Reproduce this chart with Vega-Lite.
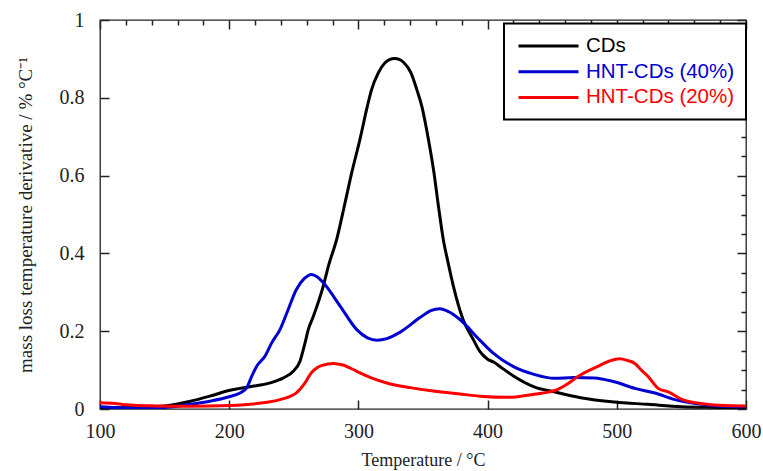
{
  "$schema": "https://vega.github.io/schema/vega-lite/v6.json",
  "width": 646,
  "height": 389,
  "autosize": {"type": "none"},
  "padding": {"left": 100, "top": 20, "right": 17, "bottom": 62},
  "background": "white",
  "config": {
    "view": {"stroke": "#222222", "strokeWidth": 1.3},
    "axis": {"labelFont": "Liberation Serif", "titleFont": "Liberation Serif", "labelColor": "#222222", "titleColor": "#222222", "titleFontWeight": "normal", "grid": false, "domain": false}
  },
  "data": {"values": [
    {"s":"CDs","t":100,"v":0.002},{"s":"CDs","t":120,"v":0.004},{"s":"CDs","t":140,"v":0.006},{"s":"CDs","t":150,"v":0.008},{"s":"CDs","t":160,"v":0.013},{"s":"CDs","t":170,"v":0.02},{"s":"CDs","t":185,"v":0.033},{"s":"CDs","t":200.6,"v":0.048},{"s":"CDs","t":216,"v":0.057},{"s":"CDs","t":231.6,"v":0.067},{"s":"CDs","t":242,"v":0.08},{"s":"CDs","t":249.6,"v":0.097},{"s":"CDs","t":254.8,"v":0.123},{"s":"CDs","t":258.7,"v":0.17},{"s":"CDs","t":261.2,"v":0.204},{"s":"CDs","t":265,"v":0.237},{"s":"CDs","t":272.8,"v":0.316},{"s":"CDs","t":277,"v":0.37},{"s":"CDs","t":283.2,"v":0.436},{"s":"CDs","t":289,"v":0.52},{"s":"CDs","t":294.8,"v":0.607},{"s":"CDs","t":301.2,"v":0.693},{"s":"CDs","t":306.9,"v":0.778},{"s":"CDs","t":310.2,"v":0.821},{"s":"CDs","t":315.4,"v":0.864},{"s":"CDs","t":320.6,"v":0.89},{"s":"CDs","t":324,"v":0.898},{"s":"CDs","t":328,"v":0.901},{"s":"CDs","t":332,"v":0.898},{"s":"CDs","t":335.3,"v":0.89},{"s":"CDs","t":340.7,"v":0.864},{"s":"CDs","t":345.2,"v":0.821},{"s":"CDs","t":349.1,"v":0.778},{"s":"CDs","t":354.2,"v":0.693},{"s":"CDs","t":358.5,"v":0.607},{"s":"CDs","t":362,"v":0.52},{"s":"CDs","t":365.7,"v":0.436},{"s":"CDs","t":369.5,"v":0.375},{"s":"CDs","t":373.5,"v":0.316},{"s":"CDs","t":381,"v":0.23},{"s":"CDs","t":389,"v":0.178},{"s":"CDs","t":394,"v":0.148},{"s":"CDs","t":400,"v":0.128},{"s":"CDs","t":405,"v":0.12},{"s":"CDs","t":410,"v":0.108},{"s":"CDs","t":420,"v":0.085},{"s":"CDs","t":436,"v":0.057},{"s":"CDs","t":451.6,"v":0.044},{"s":"CDs","t":472,"v":0.029},{"s":"CDs","t":498,"v":0.018},{"s":"CDs","t":524,"v":0.012},{"s":"CDs","t":550,"v":0.006},{"s":"CDs","t":577,"v":0.004},{"s":"CDs","t":600,"v":0.003},
    {"s":"HNT-CDs (40%)","t":100,"v":0.006},{"s":"HNT-CDs (40%)","t":112,"v":0.004},{"s":"HNT-CDs (40%)","t":130,"v":0.003},{"s":"HNT-CDs (40%)","t":150,"v":0.004},{"s":"HNT-CDs (40%)","t":160,"v":0.007},{"s":"HNT-CDs (40%)","t":169.7,"v":0.012},{"s":"HNT-CDs (40%)","t":185,"v":0.02},{"s":"HNT-CDs (40%)","t":200.6,"v":0.032},{"s":"HNT-CDs (40%)","t":208.4,"v":0.041},{"s":"HNT-CDs (40%)","t":213.5,"v":0.054},{"s":"HNT-CDs (40%)","t":217.4,"v":0.084},{"s":"HNT-CDs (40%)","t":221.3,"v":0.11},{"s":"HNT-CDs (40%)","t":227.7,"v":0.136},{"s":"HNT-CDs (40%)","t":232.9,"v":0.17},{"s":"HNT-CDs (40%)","t":239.3,"v":0.204},{"s":"HNT-CDs (40%)","t":245,"v":0.25},{"s":"HNT-CDs (40%)","t":252,"v":0.307},{"s":"HNT-CDs (40%)","t":258,"v":0.335},{"s":"HNT-CDs (40%)","t":263.8,"v":0.346},{"s":"HNT-CDs (40%)","t":268,"v":0.34},{"s":"HNT-CDs (40%)","t":272.7,"v":0.325},{"s":"HNT-CDs (40%)","t":286,"v":0.264},{"s":"HNT-CDs (40%)","t":298.7,"v":0.204},{"s":"HNT-CDs (40%)","t":307,"v":0.183},{"s":"HNT-CDs (40%)","t":314.5,"v":0.177},{"s":"HNT-CDs (40%)","t":322,"v":0.181},{"s":"HNT-CDs (40%)","t":332,"v":0.197},{"s":"HNT-CDs (40%)","t":347.7,"v":0.235},{"s":"HNT-CDs (40%)","t":356,"v":0.253},{"s":"HNT-CDs (40%)","t":363,"v":0.258},{"s":"HNT-CDs (40%)","t":370,"v":0.25},{"s":"HNT-CDs (40%)","t":378.6,"v":0.23},{"s":"HNT-CDs (40%)","t":394,"v":0.177},{"s":"HNT-CDs (40%)","t":404.6,"v":0.143},{"s":"HNT-CDs (40%)","t":420,"v":0.109},{"s":"HNT-CDs (40%)","t":436,"v":0.089},{"s":"HNT-CDs (40%)","t":451.6,"v":0.079},{"s":"HNT-CDs (40%)","t":467,"v":0.081},{"s":"HNT-CDs (40%)","t":482.8,"v":0.08},{"s":"HNT-CDs (40%)","t":498,"v":0.07},{"s":"HNT-CDs (40%)","t":514,"v":0.053},{"s":"HNT-CDs (40%)","t":529.5,"v":0.041},{"s":"HNT-CDs (40%)","t":545,"v":0.024},{"s":"HNT-CDs (40%)","t":561,"v":0.014},{"s":"HNT-CDs (40%)","t":577,"v":0.008},{"s":"HNT-CDs (40%)","t":600,"v":0.006},
    {"s":"HNT-CDs (20%)","t":100,"v":0.016},{"s":"HNT-CDs (20%)","t":111.6,"v":0.014},{"s":"HNT-CDs (20%)","t":119.4,"v":0.011},{"s":"HNT-CDs (20%)","t":142.6,"v":0.008},{"s":"HNT-CDs (20%)","t":170,"v":0.007},{"s":"HNT-CDs (20%)","t":200.6,"v":0.009},{"s":"HNT-CDs (20%)","t":221.3,"v":0.014},{"s":"HNT-CDs (20%)","t":239.3,"v":0.024},{"s":"HNT-CDs (20%)","t":252.2,"v":0.042},{"s":"HNT-CDs (20%)","t":258.7,"v":0.067},{"s":"HNT-CDs (20%)","t":263.5,"v":0.093},{"s":"HNT-CDs (20%)","t":268,"v":0.106},{"s":"HNT-CDs (20%)","t":272,"v":0.112},{"s":"HNT-CDs (20%)","t":280.6,"v":0.117},{"s":"HNT-CDs (20%)","t":288,"v":0.113},{"s":"HNT-CDs (20%)","t":298.7,"v":0.097},{"s":"HNT-CDs (20%)","t":310,"v":0.08},{"s":"HNT-CDs (20%)","t":322,"v":0.067},{"s":"HNT-CDs (20%)","t":340,"v":0.055},{"s":"HNT-CDs (20%)","t":358,"v":0.046},{"s":"HNT-CDs (20%)","t":380,"v":0.038},{"s":"HNT-CDs (20%)","t":394,"v":0.033},{"s":"HNT-CDs (20%)","t":415,"v":0.03},{"s":"HNT-CDs (20%)","t":436,"v":0.038},{"s":"HNT-CDs (20%)","t":454,"v":0.05},{"s":"HNT-CDs (20%)","t":462,"v":0.065},{"s":"HNT-CDs (20%)","t":469.6,"v":0.083},{"s":"HNT-CDs (20%)","t":485,"v":0.109},{"s":"HNT-CDs (20%)","t":495,"v":0.124},{"s":"HNT-CDs (20%)","t":502,"v":0.129},{"s":"HNT-CDs (20%)","t":508,"v":0.125},{"s":"HNT-CDs (20%)","t":514,"v":0.117},{"s":"HNT-CDs (20%)","t":519,"v":0.1},{"s":"HNT-CDs (20%)","t":524.4,"v":0.083},{"s":"HNT-CDs (20%)","t":532,"v":0.053},{"s":"HNT-CDs (20%)","t":540,"v":0.044},{"s":"HNT-CDs (20%)","t":550.8,"v":0.024},{"s":"HNT-CDs (20%)","t":563.5,"v":0.015},{"s":"HNT-CDs (20%)","t":582,"v":0.009},{"s":"HNT-CDs (20%)","t":600,"v":0.008}
  ]},
  "resolve": {"axis": {"x": "independent", "y": "independent"}},
  "layer": [
    {
      "mark": {"type": "line", "interpolate": "monotone", "strokeWidth": 3, "clip": true},
      "encoding": {
        "x": {"field": "t", "type": "quantitative", "scale": {"domain": [100, 600], "nice": false, "zero": false},
              "axis": {"orient": "bottom", "values": [100, 200, 300, 400, 500, 600], "ticks": true, "tickSize": -9, "tickColor": "#222222", "tickWidth": 1.5, "labelPadding": 21, "labelFontSize": 20, "title": "Temperature / °C", "titleFontSize": 18, "titlePadding": 10, "labelFlush": false}},
        "y": {"field": "v", "type": "quantitative", "scale": {"domain": [0, 1], "nice": false},
              "axis": {"orient": "left", "values": [0, 0.2, 0.4, 0.6, 0.8, 1], "format": "~g", "ticks": true, "tickSize": -9, "tickColor": "#222222", "tickWidth": 1.5, "labelPadding": 25, "labelFontSize": 20, "title": "mass loss temperature derivative / % °C⁻¹", "titleFontSize": 19, "titlePadding": 24}},
        "color": {"field": "s", "type": "nominal", "sort": ["CDs", "HNT-CDs (40%)", "HNT-CDs (20%)"],
                  "scale": {"domain": ["CDs", "HNT-CDs (40%)", "HNT-CDs (20%)"], "range": ["#000000", "#0000d0", "#ff0000"]},
                  "legend": {"orient": "none", "legendX": 404, "legendY": 3.5, "title": null, "symbolType": "M -3 0 L 3 0", "symbolSize": 400, "symbolStrokeWidth": 3, "symbolOffset": 22, "labelFont": "Liberation Sans", "labelFontSize": 20.5, "labelOffset": 26, "rowPadding": 3.7, "strokeColor": "#000000", "padding": 11, "fillColor": "white", "zindex": 2,
                             "encoding": {"labels": {"fill": {"value": {"expr": "datum.value === 'CDs' ? '#000000' : datum.value === 'HNT-CDs (40%)' ? '#0000d0' : '#ff0000'"}}}, "legend": {"strokeWidth": {"value": 2}}}}}
      }
    },
    {
      "mark": {"type": "point", "opacity": 0},
      "encoding": {
        "x": {"field": "t", "type": "quantitative", "axis": {"orient": "top", "values": [100, 120, 140, 160, 180, 200, 220, 240, 260, 280, 300, 320, 340, 360, 380, 400, 420, 440, 460, 480, 500, 520, 540, 560, 580, 600], "ticks": true, "tickSize": {"condition": {"test": "datum.value % 100 === 0", "value": -9}, "value": -5}, "tickColor": "#222222", "tickWidth": 1.5, "labels": false, "title": null}},
        "y": {"field": "v", "type": "quantitative", "axis": {"orient": "right", "values": [0, 0.05, 0.1, 0.15, 0.2, 0.25, 0.3, 0.35, 0.4, 0.45, 0.5, 0.55, 0.6, 0.65, 0.7, 0.75, 0.8, 0.85, 0.9, 0.95, 1], "ticks": true, "tickSize": {"condition": {"test": "abs(datum.value * 5 - round(datum.value * 5)) < 0.001", "value": -9}, "value": -5}, "tickColor": "#222222", "tickWidth": 1.5, "labels": false, "title": null}}
      }
    }
  ]
}
